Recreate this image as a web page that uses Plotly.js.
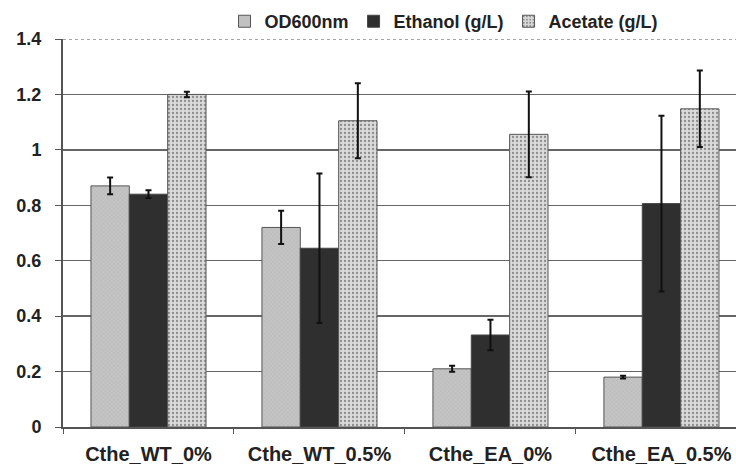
<!DOCTYPE html>
<html>
<head>
<meta charset="utf-8">
<script src="https://cdn.plot.ly/plotly-3.0.1.min.js"></script>
<style>html,body{margin:0;padding:0;background:#fff;}#chart{width:736px;height:468px;}</style>
</head>
<body>
<div id="chart"></div>
<script>
const categories = ["Cthe_WT_0%", "Cthe_WT_0.5%", "Cthe_EA_0%", "Cthe_EA_0.5%"];
const odValues = [0.87, 0.72, 0.21, 0.18];
const odErrors = [0.03, 0.06, 0.011, 0.005];
const ethanolValues = [0.84, 0.645, 0.332, 0.806];
const ethanolErrors = [0.014, 0.27, 0.055, 0.317];
const acetateValues = [1.2, 1.105, 1.056, 1.148];
const acetateErrors = [0.01, 0.135, 0.155, 0.138];
const yTicks = [0, 0.2, 0.4, 0.6, 0.8, 1, 1.2, 1.4];

const FAM = "Liberation Sans, Arial, sans-serif";
const err = (a) => ({type: "data", array: a, visible: true, color: "#111", thickness: 2, width: 3});

const traces = [
  {type: "bar", name: "OD600nm", x: categories, y: odValues, error_y: err(odErrors),
   marker: {color: "#bdbdbd", line: {color: "#555", width: 1},
            pattern: {shape: "x", fgcolor: "#b0b0b0", bgcolor: "#c4c4c4", size: 3, solidity: 0.2}}},
  {type: "bar", name: "Ethanol (g/L)", x: categories, y: ethanolValues, error_y: err(ethanolErrors),
   marker: {color: "#2f2f2f", line: {color: "#444", width: 1}}},
  {type: "bar", name: "Acetate (g/L)", x: categories, y: acetateValues, error_y: err(acetateErrors),
   marker: {color: "#d6d6d6", line: {color: "#555", width: 1},
            pattern: {shape: ".", fgcolor: "#8c8c8c", bgcolor: "#dadada", size: 4, solidity: 0.25}}}
];

const layout = {
  width: 736, height: 468,
  margin: {l: 63, r: 0, t: 38.5, b: 41, pad: 0},
  paper_bgcolor: "#fff", plot_bgcolor: "#fff",
  barmode: "group", bargap: 0.327, bargroupgap: 0,
  font: {family: FAM, size: 18, color: "#222", weight: "bold"},
  showlegend: true,
  legend: {orientation: "h", x: 0.24, xanchor: "left", y: 1.045, yanchor: "middle",
           font: {family: FAM, size: 18, color: "#222", weight: "bold"},
           itemwidth: 30, tracegroupgap: 0, bgcolor: "rgba(0,0,0,0)", borderwidth: 0},
  xaxis: {type: "category", range: [-0.5, 3.436], showgrid: false, zeroline: false, automargin: false,
          showline: true, linecolor: "#555", linewidth: 2,
          ticks: "outside", ticklen: 5, tickcolor: "#555", tickson: "boundaries", ticklabelstandoff: 8,
          tickfont: {family: FAM, size: 20, color: "#222", weight: "bold"}},
  yaxis: {range: [0, 1.4], tickvals: yTicks, ticktext: yTicks.map(String), automargin: false,
          showgrid: true, gridcolor: "#666", gridwidth: 1.5, zeroline: false,
          showline: true, linecolor: "#555", linewidth: 2,
          ticks: "outside", ticklen: 6, tickcolor: "#555", ticklabelstandoff: 10,
          tickfont: {family: FAM, size: 18, color: "#222", weight: "bold"}},
  shapes: [
    {type: "line", xref: "paper", yref: "y", x0: 0, x1: 1, y0: 1.4, y1: 1.4, line: {color: "#fff", width: 3}, layer: "above"},
    {type: "line", xref: "paper", yref: "y", x0: 0, x1: 1, y0: 1.4, y1: 1.4, line: {color: "#888", width: 1.5, dash: "dot"}, layer: "above"}
  ]
};

Plotly.newPlot("chart", traces, layout, {displayModeBar: false, staticPlot: true});
</script>
</body>
</html>
